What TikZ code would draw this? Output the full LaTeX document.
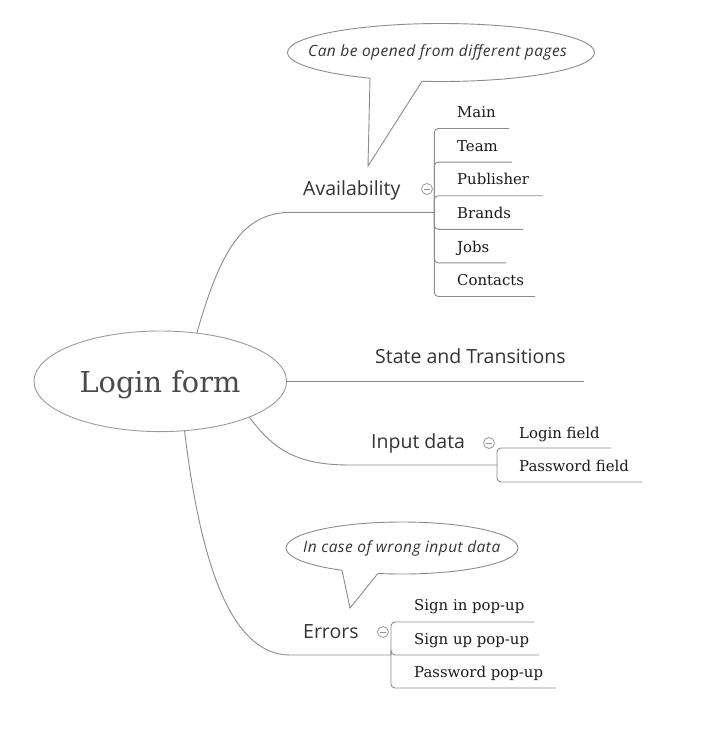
\documentclass[tikz,border=0pt]{standalone}
\usepackage{fontspec}
\setmainfont{DejaVu Serif}
\newfontfamily\labelfont{Open Sans}
\newfontfamily\notefont{Open Sans}[LetterSpace=3]
\usetikzlibrary{shapes.geometric}
\definecolor{linegray}{HTML}{8C8C8C}
\definecolor{rimgray}{HTML}{9A9A9A}
\definecolor{roottext}{HTML}{4A4A4A}
\definecolor{labeltext}{HTML}{333333}
\definecolor{leaftext}{HTML}{1A1A1A}
\definecolor{minusblue}{HTML}{8A94B0}
\begin{document}
\begin{tikzpicture}[x=1pt,y=-1pt,
 conn/.style={draw=linegray, line width=0.9pt},
 bracket/.style={draw=linegray, line width=0.9pt, rounded corners=4pt},
 leaf/.style={anchor=base west, inner sep=0pt, text=leaftext, font=\fontsize{14.9}{16}\selectfont},
 branch/.style={anchor=base west, inner sep=0pt, text=labeltext, font=\labelfont\fontsize{19.5}{22}\selectfont},
 note/.style={anchor=base west, inner sep=0pt, text=labeltext, font=\notefont\itshape\fontsize{15.5}{18}\selectfont},
 bubble/.style={draw=linegray, line width=0.9pt, fill=white},
 collapse/.style={circle, draw=rimgray, line width=0.8pt, minimum size=11pt, inner sep=0pt,
   path picture={\draw[minusblue, line width=0.9pt] ([xshift=-3pt]path picture bounding box.center) -- ([xshift=3pt]path picture bounding box.center);}},
]
\useasboundingbox[fill=white] (0,0) rectangle (712,732);

% root
\node[ellipse, draw=rimgray, line width=0.9pt, minimum width=252.6pt, minimum height=100.6pt, inner sep=0pt] (root) at (160.3,381.3) {};
\node[anchor=base, inner sep=0pt, text=roottext, font=\fontsize{28.8}{32}\selectfont] (rootlabel) at (160,392.7) {Login form};

% junctions
\coordinate (avj) at (434.3,212.3);
\coordinate (stEnd) at (584,381.3);
\coordinate (inj) at (497,465);
\coordinate (erj) at (391,655);

% main branches
\draw[conn] (root.53) .. controls (222,245) and (245,212.3) .. (292,212.3) -- (avj);
\draw[conn] (root.east) -- (stEnd);
\draw[conn] (root.-22) .. controls (275,452) and (300,465) .. (350,465) -- (inj);
\draw[conn] (root.-64) .. controls (200,560) and (230,655) .. (290,655) -- (erj);

% branch labels
\node[branch] (avail) at (303,195) {Availability};
\node[branch] (state) at (375,363.3) {State and Transitions};
\node[branch] (input) at (371,448.3) {Input data};
\node[branch] (errors) at (303,638.3) {Errors};

% collapse markers
\node[collapse] (avcol) at (427,189) {};
\node[collapse] (incol) at (489,443) {};
\node[collapse] (ercol) at (383,632) {};

% availability leaves
\coordinate (mainU) at (509,128.5);
\coordinate (teamU) at (512,162.1);
\coordinate (pubU) at (543,195.7);
\coordinate (brandU) at (523,229.3);
\coordinate (jobsU) at (506,262.9);
\coordinate (contU) at (535,296.5);
\foreach \u in {mainU,teamU,pubU,brandU,jobsU,contU}{\draw[bracket] (avj) |- (\u);}
\node[leaf] (main) at (457,117.7) {Main};
\node[leaf] (team) at (457,151.3) {Team};
\node[leaf] (pub) at (457,184.9) {Publisher};
\node[leaf] (brand) at (457,218.5) {Brands};
\node[leaf] (jobs) at (457,252.1) {Jobs};
\node[leaf] (cont) at (457,285.7) {Contacts};

% input leaves
\coordinate (loginU) at (611,448);
\coordinate (passU) at (642,482);
\draw[bracket] (inj) |- (loginU);
\draw[bracket] (inj) |- (passU);
\node[leaf] (login) at (519,438) {Login field};
\node[leaf] (pass) at (519,471.7) {Password field};

% error leaves
\coordinate (signinU) at (534,622);
\coordinate (signupU) at (539,655);
\coordinate (ppopU) at (556,688);
\draw[bracket] (erj) |- (signinU);
\draw[bracket] (erj) |- (signupU);
\draw[bracket] (erj) |- (ppopU);
\node[leaf] (signin) at (414,610.7) {Sign in pop-up};
\node[leaf] (signup) at (414,644) {Sign up pop-up};
\node[leaf] (ppop) at (414,677.5) {Password pop-up};

% callout 1
\draw[bubble] (441,52.5) ellipse [x radius=153.5, y radius=29];
\fill[white] (370,75) -- (370,78.2) -- (368,166) -- (422,81.3) -- (422,78) -- cycle;
\draw[conn, line join=miter] (370,78.2) -- (368,166) -- (422,81.3);
\node[note] (note1) at (308,56.7) {Can be opened from different pages};

% callout 2
\draw[bubble] (402,548) ellipse [x radius=116, y radius=26];
\fill[white] (342,567) -- (342,570.3) -- (350,608) -- (378,573.4) -- (378,570) -- cycle;
\draw[conn, line join=miter] (342,570.3) -- (350,608) -- (378,573.4);
\node[note] (note2) at (303,552.7) {In case of wrong input data};
\end{tikzpicture}
\end{document}
